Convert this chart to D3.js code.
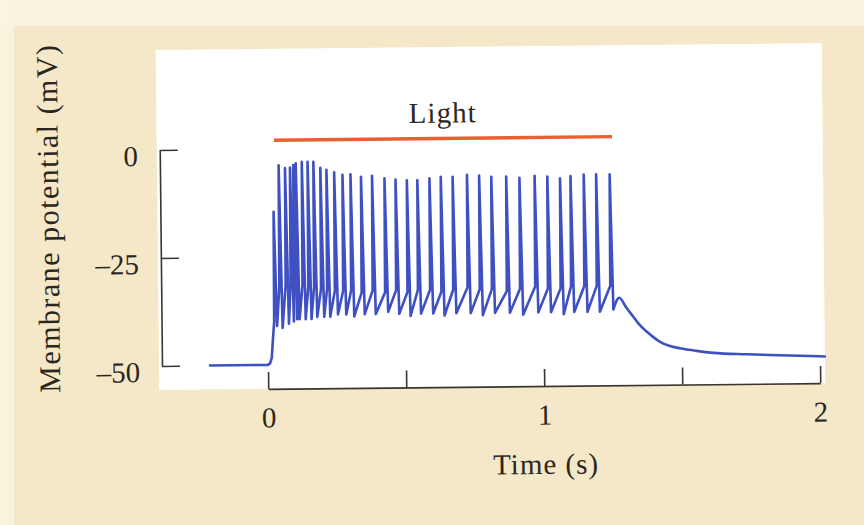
<!DOCTYPE html>
<html>
<head>
<meta charset="utf-8">
<script src="https://cdn.jsdelivr.net/npm/d3@7"></script>
<style>
    body { margin: 0; padding: 0; background: #f5ebcd; }
    svg { display: block; }
</style>
</head>
<body>
<svg id="chart" width="864" height="525"></svg>
<script>

// ---- data ----
var xTicks = [0, 0.5, 1, 1.5, 2];
var xTickLabels = ['0', '', '1', '', '2'];
var yTicks = [0, -25, -50];
var yTickLabels = ['0', '\u201325', '\u201350'];

// light stimulus bar (s, mV)
var lightOn = 0.03;
var lightOff = 1.255;
var lightLevel = 2;

// resting trace before the light comes on [t (s), mV]
var onsetTrace = [[-0.214, -50], [0.0, -50], [0.008, -49.6], [0.014, -48.4], [0.019, -44]];

// one entry per action potential
var spikeTimes = [0.026, 0.046, 0.069, 0.087, 0.099, 0.108, 0.130, 0.151, 0.172, 0.197,
    0.219, 0.247, 0.277, 0.306, 0.344, 0.384, 0.429, 0.469, 0.510, 0.548,
    0.592, 0.633, 0.676, 0.728, 0.772, 0.816, 0.870, 0.918, 0.973, 1.019,
    1.065, 1.103, 1.151, 1.196, 1.245];
var spikePeaks = [-14.6, -3.8, -4.5, -4.4, -3.8, -3.4, -3.1, -3.1, -3.1, -4.5,
    -5.0, -5.6, -6.2, -6.1, -6.7, -6.5, -7.1, -7.4, -7.6, -7.6,
    -7.2, -6.9, -6.9, -6.5, -6.7, -7.0, -7.0, -7.3, -6.9, -7.1,
    -7.5, -7.0, -6.7, -6.7, -6.7];
var spikeThresholds = [-40, -32, -31.5, -31.5, -31, -31, -31.5, -32, -32, -32.5,
    -32.5, -33, -33, -33, -33.5, -33, -33.5, -33, -33.5, -33,
    -33, -33.5, -33, -32.5, -33, -33, -33.5, -33, -32.5, -33,
    -33, -32.5, -32.5, -32.5, -32.5];
var spikeTroughs = [-41, -41.5, -40.5, -40, -39.5, -39.5, -39.5, -39.5, -39, -39,
    -39, -38.5, -38.5, -39, -38.5, -38.5, -38, -38.5, -39, -38.5,
    -38.5, -39, -38.5, -38.5, -39, -38.5, -38.5, -39, -38.5, -38.5,
    -39, -38.5, -38.5, -38.5, -38];

// recovery after the light goes off [t (s), mV]
var recoveryTrace = [[1.275, -35.3], [1.300, -37.6], [1.325, -39.7], [1.349, -41.7],
    [1.373, -43.2], [1.397, -44.5], [1.421, -45.6], [1.457, -46.6], [1.493, -47.15],
    [1.553, -47.8], [1.614, -48.3], [1.735, -48.7], [1.855, -49.0], [2.018, -49.4]];

var xLabel = 'Time (s)';
var yLabel = 'Membrane potential (mV)';
var lightLabel = 'Light';

// ---- drawing ----
var ink = '#2b2620';
var font = '"Liberation Serif", "Times New Roman", serif';
var traceColor = '#3e50c2';

var svg = d3.select('#chart');

svg.append('rect').attr('width', 864).attr('height', 525).attr('fill', '#f4e8c8');
svg.append('rect').attr('width', 864).attr('height', 26).attr('fill', '#fbf6e6').attr('opacity', 0.7);
svg.append('rect').attr('width', 14).attr('height', 525).attr('fill', '#fbf6e6').attr('opacity', 0.7);

// the scan is a little rotated
var g = svg.append('g').attr('transform', 'rotate(-0.6, 162, 366)');

var x = d3.scaleLinear().domain([0, 2]).range([268, 820]);
var y = d3.scaleLinear().domain([-50, 0]).range([366, 150]);

g.append('rect')
    .attr('x', 159).attr('y', 50)
    .attr('width', 666).attr('height', 340)
    .attr('fill', '#ffffff');

var yAxis = d3.axisLeft(y)
    .tickValues(yTicks)
    .tickSizeInner(-18)
    .tickSizeOuter(0)
    .tickPadding(22)
    .tickFormat(function (d, i) { return yTickLabels[i]; });

var xAxis = d3.axisBottom(x)
    .tickValues(xTicks)
    .tickSizeInner(-17)
    .tickSizeOuter(0)
    .tickPadding(18)
    .tickFormat(function (d, i) { return xTickLabels[i]; });

var gy = g.append('g').attr('transform', 'translate(162,0)').call(yAxis);
var gx = g.append('g').attr('transform', 'translate(0,390)').call(xAxis);

[gx, gy].forEach(function (ax) {
    ax.attr('font-family', font).attr('font-size', 29);
    ax.selectAll('path, line').attr('stroke', '#3a3530').attr('stroke-width', 1.6);
    ax.selectAll('text').attr('fill', ink);
});
gy.selectAll('text').attr('dy', '0.53em');

// light bar
g.append('line')
    .attr('x1', x(lightOn)).attr('x2', x(lightOff))
    .attr('y1', y(lightLevel)).attr('y2', y(lightLevel))
    .attr('stroke', '#ec5f30').attr('stroke-width', 3.4);

g.append('text')
    .attr('x', x((lightOn + lightOff) / 2)).attr('y', 125.5)
    .attr('text-anchor', 'middle')
    .attr('font-family', font).attr('font-size', 29).attr('letter-spacing', 1)
    .attr('fill', ink)
    .text(lightLabel);

// membrane potential trace: spiking part with straight strokes,
// recovery part smoothed
var spiking = onsetTrace.slice();
spikeTimes.forEach(function (t, i) {
    spiking.push([t - 0.002, spikeThresholds[i]]);
    spiking.push([t, spikePeaks[i]]);
    spiking.push([t + 0.0085, spikeTroughs[i]]);
});
var recovery = [spiking[spiking.length - 1]].concat(recoveryTrace);

var lineStraight = d3.line()
    .x(function (d) { return x(d[0]); })
    .y(function (d) { return y(d[1]); });

var lineSmooth = d3.line()
    .curve(d3.curveMonotoneX)
    .x(function (d) { return x(d[0]); })
    .y(function (d) { return y(d[1]); });

g.append('path')
    .datum(spiking)
    .attr('d', lineStraight)
    .attr('fill', 'none')
    .attr('stroke', traceColor)
    .attr('stroke-width', 2.6)
    .attr('stroke-linejoin', 'round');

g.append('path')
    .datum(recovery)
    .attr('d', lineSmooth)
    .attr('fill', 'none')
    .attr('stroke', traceColor)
    .attr('stroke-width', 2.6)
    .attr('stroke-linejoin', 'round')
    .attr('stroke-linecap', 'round');

// axis titles
g.append('text')
    .attr('x', 545).attr('y', 478)
    .attr('text-anchor', 'middle')
    .attr('font-family', font).attr('font-size', 29).attr('letter-spacing', 1)
    .attr('fill', ink)
    .text(xLabel);

g.append('text')
    .attr('transform', 'translate(60,217) rotate(-90)')
    .attr('text-anchor', 'middle')
    .attr('font-family', font).attr('font-size', 30).attr('letter-spacing', 1.5)
    .attr('fill', ink)
    .text(yLabel);

</script>
</body>
</html>
